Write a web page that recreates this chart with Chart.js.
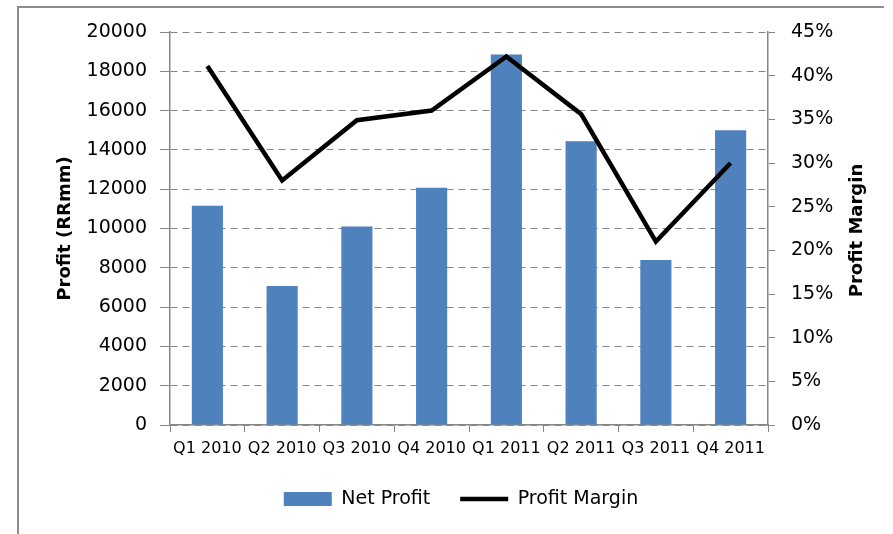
<!DOCTYPE html>
<html>
<head>
<meta charset="utf-8">
<script src="https://cdn.jsdelivr.net/npm/chart.js@4"></script>
<style>
  html, body { margin: 0; padding: 0; background: #fff; }
  #wrap { width: 893px; height: 534px; position: relative; }
</style>
</head>
<body>
<div id="wrap"><canvas id="c" width="893" height="534"></canvas></div>
<script>
const categories = ['Q1 2010', 'Q2 2010', 'Q3 2010', 'Q4 2010', 'Q1 2011', 'Q2 2011', 'Q3 2011', 'Q4 2011'];
const netProfit = [11160, 7070, 10100, 12080, 18850, 14440, 8400, 15000];
const profitMargin = [41.1, 28.0, 34.9, 36.0, 42.2, 35.6, 21.0, 30.0];
const seriesNames = ['Net Profit', 'Profit Margin'];
const axisTitles = ['Profit (RRmm)', 'Profit Margin'];

const FONT = 'DejaVu Sans';
const GRAY = '#868686';
const BLUE = '#4F81BD';

const framePlugin = {
  id: 'frame',
  beforeDraw(chart) {
    const ctx = chart.ctx;
    ctx.save();
    ctx.fillStyle = '#fff';
    ctx.fillRect(0, 0, chart.width, chart.height);
    ctx.strokeStyle = '#8c8c8c';
    ctx.lineWidth = 2;
    ctx.beginPath();
    ctx.moveTo(18, 534);
    ctx.lineTo(18, 7);
    ctx.lineTo(884, 7);
    ctx.stroke();
    ctx.restore();
  },
  afterDraw(chart) {
    const ctx = chart.ctx;
    const area = chart.chartArea;
    ctx.save();
    ctx.translate(857, (area.top + area.bottom) / 2 + 2);
    ctx.rotate(-Math.PI / 2);
    ctx.font = 'bold 18px "' + FONT + '"';
    ctx.fillStyle = '#000';
    ctx.textAlign = 'center';
    ctx.textBaseline = 'middle';
    ctx.fillText(axisTitles[1], 0, 0);
    ctx.restore();
  }
};

new Chart(document.getElementById('c'), {
  type: 'bar',
  data: {
    labels: categories,
    datasets: [
      {
        label: seriesNames[0],
        data: netProfit,
        backgroundColor: BLUE,
        borderWidth: 0,
        categoryPercentage: 1.0,
        barPercentage: 0.4167,
        yAxisID: 'y',
        order: 2
      },
      {
        type: 'line',
        label: seriesNames[1],
        data: profitMargin,
        borderColor: '#000',
        backgroundColor: '#000',
        borderWidth: 4.5,
        pointRadius: 0,
        pointHoverRadius: 0,
        tension: 0,
        fill: false,
        yAxisID: 'y1',
        order: 1
      }
    ]
  },
  options: {
    responsive: false,
    animation: false,
    devicePixelRatio: 1,
    layout: { padding: { left: 29, right: 0, top: 32, bottom: 15.5 } },
    plugins: {
      tooltip: { enabled: false },
      title: { display: false },
      legend: {
        display: true,
        position: 'bottom',
        labels: {
          font: { family: FONT, size: 19 },
          color: '#000',
          usePointStyle: true,
          pointStyleWidth: 48,
          boxHeight: 14,
          padding: 30,
          generateLabels(chart) {
            return [
              { text: seriesNames[0], fillStyle: BLUE, strokeStyle: BLUE, lineWidth: 0, pointStyle: 'rect', datasetIndex: 0, hidden: false, fontColor: '#000' },
              { text: seriesNames[1], fillStyle: '#000', strokeStyle: '#000', lineWidth: 4.5, pointStyle: 'line', datasetIndex: 1, hidden: false, fontColor: '#000' }
            ];
          }
        }
      }
    },
    scales: {
      x: {
        type: 'category',
        offset: true,
        afterFit(scale) { scale.height = 34.5; },
        grid: {
          display: true,
          offset: true,
          drawOnChartArea: false,
          drawTicks: true,
          tickLength: 7,
          color: GRAY
        },
        border: { display: true, color: GRAY, width: 1.5 },
        ticks: {
          font: { family: FONT, size: 16 },
          color: '#000',
          padding: 7,
          maxRotation: 0,
          autoSkip: false
        }
      },
      y: {
        position: 'left',
        min: 0,
        max: 20000,
        afterFit(scale) { scale.width = 141; },
        grid: {
          color: GRAY,
          lineWidth: 1,
          drawTicks: true,
          tickLength: 10,
          tickBorderDash: []
        },
        border: { display: true, color: GRAY, width: 1.5, dash: [7, 5] },
        ticks: {
          stepSize: 2000,
          font: { family: FONT, size: 19 },
          color: '#000',
          padding: 13,
          callback: (v) => String(v)
        },
        title: {
          display: true,
          text: axisTitles[0],
          font: { family: FONT, size: 18, weight: 'bold' },
          color: '#000',
          padding: { top: 26, bottom: 0 }
        }
      },
      y1: {
        position: 'right',
        min: 0,
        max: 45,
        afterFit(scale) { scale.width = 125; },
        grid: {
          drawOnChartArea: false,
          drawTicks: true,
          tickLength: 7,
          color: GRAY
        },
        border: { display: true, color: GRAY, width: 1.5 },
        ticks: {
          stepSize: 5,
          font: { family: FONT, size: 19 },
          color: '#000',
          padding: 16,
          callback: (v) => v + '%'
        }
      }
    }
  },
  plugins: [framePlugin]
});
</script>
</body>
</html>
